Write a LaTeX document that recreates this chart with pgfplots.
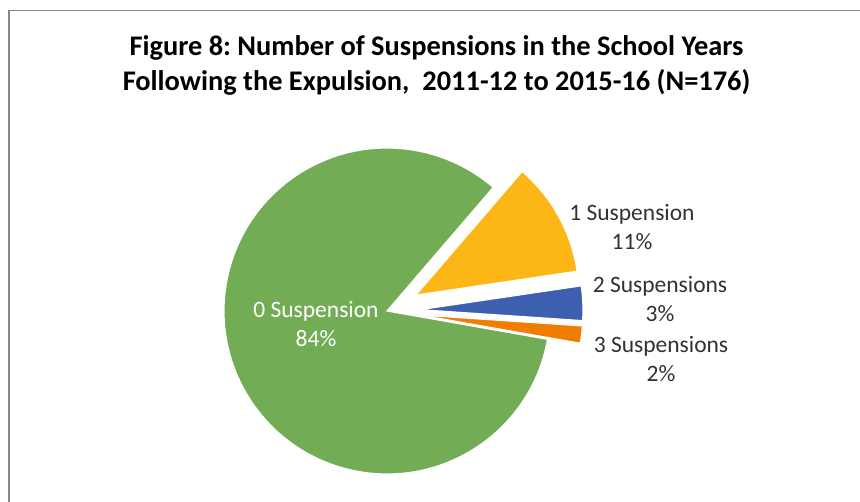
\documentclass[border=0pt]{standalone}
\usepackage{pgfplots}
\pgfplotsset{compat=1.18}
\usepackage{fontspec}
\setmainfont{Carlito}
\frenchspacing
\definecolor{cgreen}{RGB}{114,173,85}
\definecolor{cyellow}{RGB}{252,183,22}
\definecolor{cblue}{RGB}{61,95,176}
\definecolor{corange}{RGB}{240,124,0}
\definecolor{ctext}{RGB}{50,50,50}
\definecolor{cborder}{RGB}{135,135,135}
\begin{document}
\begin{tikzpicture}
% counts (N = 176): 0, 1, 2, 3 suspensions
\def\vA{147}\def\vB{20}\def\vC{6}\def\vD{3}
\pgfmathsetmacro\tot{\vA+\vB+\vC+\vD}
\pgfmathsetmacro\aS{-10}
\pgfmathsetmacro\aA{\aS-\vA/\tot*360}
\pgfmathsetmacro\aB{\aA-\vB/\tot*360}
\pgfmathsetmacro\aC{\aB-\vC/\tot*360}
\pgfmathsetmacro\aD{\aC-\vD/\tot*360}
\pgfmathsetmacro\mB{(\aA+\aB)/2}
\pgfmathsetmacro\mC{(\aB+\aC)/2}
\pgfmathsetmacro\mD{(\aC+\aD)/2}
\def\cx{387}\def\cy{191}\def\R{163pt}\def\ex{33}
\begin{axis}[hide axis, scale only axis, width=860pt, height=502pt,
  xmin=0, xmax=860, ymin=0, ymax=502, clip=false, anchor=south west, at={(0,0)}]
\draw[cborder, line width=1.6pt] (axis cs:9,0) -- (axis cs:9,491.5) -- (axis cs:860,491.5);
\fill[cgreen, draw=white, line width=1.2pt] (axis cs:\cx,\cy) -- ++(\aS:\R) arc[start angle=\aS, end angle=\aA, radius=\R] -- cycle;
\fill[cyellow, draw=white, line width=1.2pt] (axis cs:{\cx+\ex*cos(\mB)},{\cy+\ex*sin(\mB)}) -- ++(\aA:\R) arc[start angle=\aA, end angle=\aB, radius=\R] -- cycle;
\fill[cblue, draw=white, line width=1.2pt] (axis cs:{\cx+\ex*cos(\mC)},{\cy+\ex*sin(\mC)}) -- ++(\aB:\R) arc[start angle=\aB, end angle=\aC, radius=\R] -- cycle;
\fill[corange, draw=white, line width=1.2pt] (axis cs:{\cx+\ex*cos(\mD)},{\cy+\ex*sin(\mD)}) -- ++(\aC:\R) arc[start angle=\aC, end angle=\aD, radius=\R] -- cycle;
\node[font=\fontsize{23.5}{28.5}\selectfont, align=center, text=white] at (axis cs:316,178) {0 Suspension\\84\%};
\node[font=\fontsize{23.5}{28.5}\selectfont, align=center, text=ctext] at (axis cs:632,275) {1 Suspension\\11\%};
\node[font=\fontsize{23.5}{28.5}\selectfont, align=center, text=ctext] at (axis cs:660,203) {2 Suspensions\\3\%};
\node[font=\fontsize{23.5}{28.5}\selectfont, align=center, text=ctext] at (axis cs:661,143) {3 Suspensions\\2\%};
\node[font=\fontsize{28.4}{35}\selectfont\bfseries, align=center, text=black] at (axis cs:436.5,436.5) {Figure 8: Number of Suspensions in the School Years\\Following the Expulsion,\ \ 2011-12 to 2015-16 (N=176)};
\end{axis}
\pgfresetboundingbox
\path[use as bounding box] (0,0) rectangle (860pt,502pt);
\end{tikzpicture}
\end{document}
